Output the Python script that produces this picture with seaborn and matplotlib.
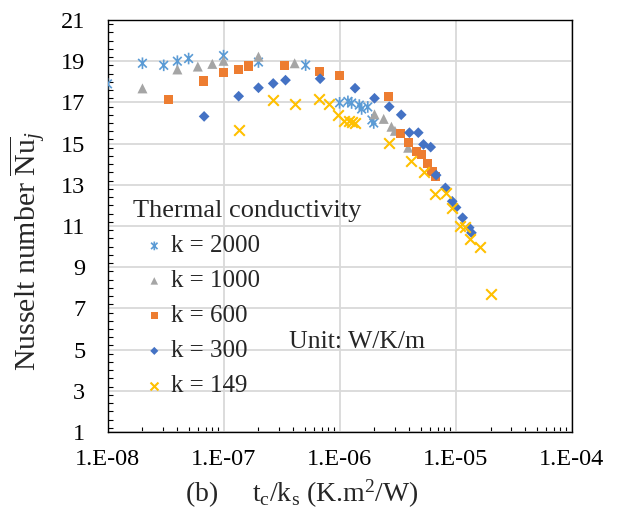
import numpy as np
import pandas as pd
import matplotlib
matplotlib.use("Agg")
import matplotlib.pyplot as plt
from matplotlib.path import Path
from matplotlib.ticker import FixedLocator, FuncFormatter, MultipleLocator, LogLocator, NullFormatter
import seaborn as sns

# Average Nusselt number vs. t_c/k_s for several solid thermal conductivities
k2000_x = [1.0e-8, 2.0e-8, 3.05e-8, 4.0e-8, 5.0e-8, 1.0e-7, 2.0e-7, 5.1e-7,
           1.0e-6, 1.18e-6, 1.27e-6, 1.48e-6, 1.55e-6, 1.75e-6, 1.9e-6, 1.97e-6]
k2000_y = [17.9, 18.9, 18.8, 19.0, 19.13, 19.27, 18.96, 18.81,
           16.98, 17.05, 16.97, 16.87, 16.68, 16.78, 16.15, 16.0]

k1000_x = [2.0e-8, 4.0e-8, 6.0e-8, 8.0e-8, 1.0e-7, 2.0e-7, 4.1e-7,
           2.0e-6, 2.4e-6, 2.8e-6, 3.0e-6, 3.9e-6]
k1000_y = [17.68, 18.6, 18.74, 18.87, 19.02, 19.22, 18.9,
           16.42, 16.2, 15.82, 15.62, 14.8]

k600_x = [3.35e-8, 6.7e-8, 1.0e-7, 1.34e-7, 1.64e-7, 3.37e-7, 6.7e-7, 1.0e-6,
          2.65e-6, 3.35e-6, 3.95e-6, 4.57e-6, 5.05e-6, 5.72e-6, 6.25e-6, 6.7e-6]
k600_y = [17.14, 18.04, 18.44, 18.58, 18.77, 18.79, 18.51, 18.32,
          17.29, 15.5, 15.06, 14.6, 14.48, 14.02, 13.66, 13.42]

k300_x = [6.8e-8, 1.35e-7, 2.0e-7, 2.68e-7, 3.42e-7, 6.8e-7, 1.36e-6, 2.0e-6,
          2.68e-6, 3.4e-6, 4.0e-6, 4.77e-6, 5.29e-6, 6.1e-6, 6.8e-6, 8.17e-6,
          9.35e-6, 1.01e-5, 1.15e-5, 1.31e-5, 1.37e-5]
k300_y = [16.32, 17.3, 17.71, 17.92, 18.08, 18.15, 17.69, 17.2,
          16.79, 16.4, 15.53, 15.53, 14.96, 14.83, 13.47, 12.85,
          12.2, 11.9, 11.4, 10.92, 10.67]

k149_x = [1.35e-7, 2.68e-7, 4.1e-7, 6.65e-7, 8.15e-7, 9.6e-7, 1.1e-6, 1.2e-6,
          1.28e-6, 1.37e-6, 2.68e-6, 4.1e-6, 5.38e-6, 6.7e-6, 8.2e-6, 9.4e-6,
          1.09e-5, 1.2e-5, 1.32e-5, 1.62e-5, 2.01e-5]
k149_y = [15.66, 17.14, 16.9, 17.16, 16.9, 16.38, 16.1, 16.08,
          16.03, 15.98, 15.02, 14.17, 13.6, 12.55, 12.6, 11.88,
          11.02, 10.96, 10.38, 9.99, 7.7]

labels = ["k = 2000", "k = 1000", "k = 600", "k = 300", "k = 149"]
colors = ["#5B9BD5", "#A5A5A5", "#ED7D31", "#4472C4", "#FFC000"]

x_ticks = [1e-8, 1e-7, 1e-6, 1e-5, 1e-4]
y_ticks = [1, 3, 5, 7, 9, 11, 13, 15, 17, 19, 21]

sns.set_theme(style="white")
plt.rcParams["font.family"] = ["Liberation Serif", "DejaVu Serif"]
plt.rcParams["mathtext.fontset"] = "custom"
plt.rcParams["mathtext.rm"] = "Liberation Serif"
plt.rcParams["mathtext.it"] = "Liberation Serif:italic"
plt.rcParams["mathtext.bf"] = "Liberation Serif:bold"

# asterisk marker: an x with a vertical stroke
star = Path([(-1, -1), (1, 1), (-1, 1), (1, -1), (0, -1.35), (0, 1.35)],
            [Path.MOVETO, Path.LINETO] * 3)

fig = plt.figure(figsize=(6.34, 5.17), dpi=100)
ax = fig.add_axes([0.1696, 0.1644, 0.7320, 0.7969])

series = [
    (k2000_x, k2000_y, star, 70, dict(facecolor="none", linewidth=1.2)),
    (k1000_x, k1000_y, "^", 52, dict(edgecolor="none")),
    (k600_x, k600_y, "s", 44, dict(edgecolor="none")),
    (k300_x, k300_y, "D", 30, dict(edgecolor="none")),
    (k149_x, k149_y, "x", 58, dict(linewidth=1.5)),
]
for (xs, ys, mk, size, extra), lab, col in zip(series, labels, colors):
    df = pd.DataFrame({"x": xs, "y": ys})
    kw = dict(extra)
    if mk is star:
        kw["edgecolor"] = col
    sns.scatterplot(data=df, x="x", y="y", marker=mk, s=size, color=col,
                    label=lab, ax=ax, zorder=3, **kw)

ax.set_xscale("log")
ax.set_xlim(1e-8, 1e-4)
ax.set_ylim(1, 21)

ax.xaxis.set_major_locator(FixedLocator(x_ticks))
ax.xaxis.set_major_formatter(FuncFormatter(lambda v, p: f"1.E{int(round(np.log10(v))):03d}"))
ax.xaxis.set_minor_locator(LogLocator(base=10, subs=np.arange(2, 10), numticks=20))
ax.xaxis.set_minor_formatter(NullFormatter())
ax.yaxis.set_major_locator(FixedLocator(y_ticks))
ax.yaxis.set_minor_locator(MultipleLocator(0.4))

ax.grid(True, which="major", color="#D9D9D9", linewidth=1.3, zorder=0)
ax.set_axisbelow(True)
for sp in ax.spines.values():
    sp.set_color("black")
    sp.set_linewidth(1.0)

ax.tick_params(axis="both", which="major", direction="inout", length=8, width=1.0,
               colors="black", labelsize=17.5)
ax.tick_params(axis="y", which="major", pad=12)
ax.tick_params(axis="x", which="major", pad=8)
ax.tick_params(axis="both", which="minor", direction="in", length=3.5, width=0.8,
               colors="black")
ax.tick_params(axis="x", which="minor", bottom=True)
ax.tick_params(axis="y", which="minor", left=True)

ax.set_xlabel(r"(b)     t$_\mathrm{c}$/k$_\mathrm{s}$ (K.m$^2$/W)", fontsize=20)
ax.xaxis.set_label_coords(0.418, -0.112)
ax.set_ylabel(r"Nusselt number $\overline{\mathrm{Nu}}_{j}$", fontsize=21.5)
ax.yaxis.set_label_coords(-0.128, 0.44)

ax.text(0.391, 0.218, "Unit: W/K/m", transform=ax.transAxes, fontsize=18.5,
        ha="left", va="center")

leg = ax.legend(title="Thermal conductivity", loc="upper left",
                bbox_to_anchor=(0.055, 0.562), frameon=False, fontsize=18,
                title_fontsize=19, borderaxespad=0, borderpad=0,
                handlelength=1.7, handletextpad=-0.2, labelspacing=0.5,
                markerscale=0.75, alignment="left")

fig.savefig("out.png", dpi=100)
